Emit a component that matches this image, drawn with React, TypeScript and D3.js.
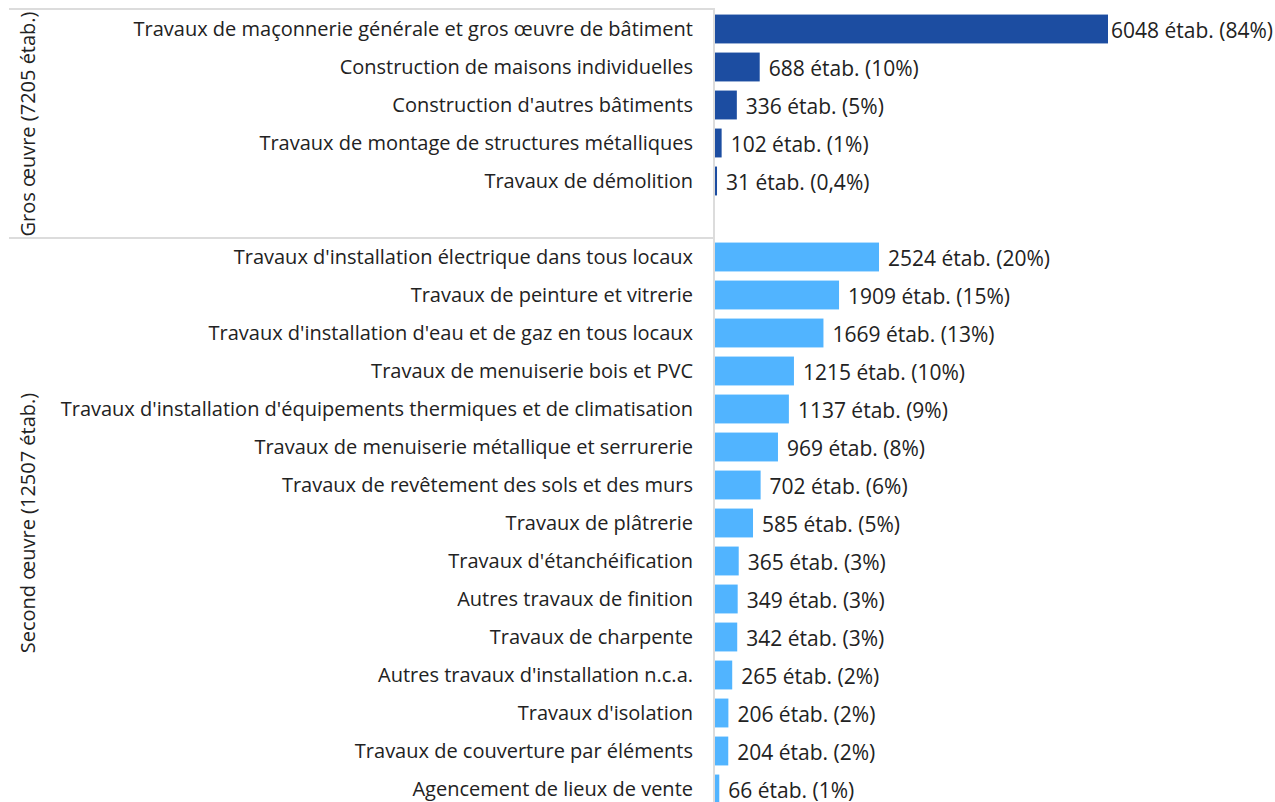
import React, { useEffect, useRef } from "react";
import * as d3 from "d3";

const groupNames = ["Gros œuvre (7205 étab.)", "Second œuvre (12507 étab.)"];

const grosCategories = [
  "Travaux de maçonnerie générale et gros œuvre de bâtiment",
  "Construction de maisons individuelles",
  "Construction d'autres bâtiments",
  "Travaux de montage de structures métalliques",
  "Travaux de démolition",
];
const grosValues = [6048, 688, 336, 102, 31];
const grosShares = ["84%", "10%", "5%", "1%", "0,4%"];

const secondCategories = [
  "Travaux d'installation électrique dans tous locaux",
  "Travaux de peinture et vitrerie",
  "Travaux d'installation d'eau et de gaz en tous locaux",
  "Travaux de menuiserie bois et PVC",
  "Travaux d'installation d'équipements thermiques et de climatisation",
  "Travaux de menuiserie métallique et serrurerie",
  "Travaux de revêtement des sols et des murs",
  "Travaux de plâtrerie",
  "Travaux d'étanchéification",
  "Autres travaux de finition",
  "Travaux de charpente",
  "Autres travaux d'installation n.c.a.",
  "Travaux d'isolation",
  "Travaux de couverture par éléments",
  "Agencement de lieux de vente",
];
const secondValues = [2524, 1909, 1669, 1215, 1137, 969, 702, 585, 365, 349, 342, 265, 206, 204, 66];
const secondShares = ["20%", "15%", "13%", "10%", "9%", "8%", "6%", "5%", "3%", "3%", "3%", "2%", "2%", "2%", "1%"];

const W = 1275;
const H = 802;

export default function App() {
  const ref = useRef<SVGSVGElement>(null);

  useEffect(() => {
    document.body.style.margin = "0";
    const svg = d3.select(ref.current);
    svg.selectAll("*").remove();

    type Row = { key: string; cat: string; value: number; share: string; group: number };
    const rows: Row[] = [];
    grosCategories.forEach((c, i) =>
      rows.push({ key: "g" + i, cat: c, value: grosValues[i], share: grosShares[i], group: 0 })
    );
    rows.push({ key: "gap", cat: "", value: NaN, share: "", group: 0 });
    secondCategories.forEach((c, i) =>
      rows.push({ key: "s" + i, cat: c, value: secondValues[i], share: secondShares[i], group: 1 })
    );

    const top = 10;
    const step = 38;
    const y = d3
      .scaleBand<string>()
      .domain(rows.map((r) => r.key))
      .range([top, top + step * rows.length])
      .paddingInner(0.24)
      .paddingOuter(0.12);

    const axisX = 714;
    const x0 = 715;
    const maxV = d3.max([...grosValues, ...secondValues]) as number;
    const x = d3.scaleLinear().domain([0, maxV]).range([x0, 1108]);

    const colors = ["#1c4da1", "#51b4ff"];
    const font = "'Open Sans', 'Noto Sans', sans-serif";
    const fs = 20;
    const vfs = 21;

    const grid = svg.append("g").attr("stroke", "#dcdcdc").attr("stroke-width", 2);
    const groupTop0 = top;
    const groupTop1 = top + step * 6;
    grid.append("line").attr("x1", 9).attr("x2", axisX).attr("y1", groupTop0 - 1).attr("y2", groupTop0 - 1);
    grid.append("line").attr("x1", 9).attr("x2", axisX).attr("y1", groupTop1).attr("y2", groupTop1);
    grid.append("line").attr("x1", axisX).attr("x2", axisX).attr("y1", groupTop0 - 2).attr("y2", H);

    const data = rows.filter((r) => r.key !== "gap");

    svg
      .append("g")
      .selectAll("rect")
      .data(data)
      .join("rect")
      .attr("x", x0)
      .attr("y", (d) => y(d.key)!)
      .attr("height", y.bandwidth())
      .attr("width", (d) => Math.max(1.5, x(d.value) - x0))
      .attr("fill", (d) => colors[d.group]);

    svg
      .append("g")
      .selectAll("text")
      .data(data)
      .join("text")
      .attr("x", 693)
      .attr("y", (d) => y(d.key)! + y.bandwidth() / 2)
      .attr("dy", "0.35em")
      .attr("text-anchor", "end")
      .attr("font-family", font)
      .attr("font-size", fs)
      .attr("fill", "#222")
      .text((d) => d.cat);

    const labels = svg
      .append("g")
      .selectAll("text")
      .data(data)
      .join("text")
      .attr("x", (d) => Math.max(x(d.value), x0 + 1.5) + 9)
      .attr("y", (d) => y(d.key)! + y.bandwidth() / 2)
      .attr("dy", "0.45em")
      .attr("font-family", font)
      .attr("font-size", vfs)
      .attr("fill", "#222")
      .text((d) => `${d.value} étab. (${d.share})`);

    labels.each(function (d) {
      const el = this as SVGTextElement;
      const w = el.getComputedTextLength();
      const start = Math.max(x(d.value), x0 + 1.5) + 9;
      if (start + w > W - 2) {
        d3.select(el).attr("x", Math.max(x(d.value) + 2, W - 2 - w));
      }
    });

    const groupRanges = [
      [groupTop0, groupTop1],
      [groupTop1, top + step * rows.length],
    ];
    svg
      .append("g")
      .selectAll("text")
      .data(groupNames)
      .join("text")
      .attr("transform", (_, i) => `translate(28,${(groupRanges[i][0] + groupRanges[i][1]) / 2}) rotate(-90)`)
      .attr("dy", "0.35em")
      .attr("text-anchor", "middle")
      .attr("font-family", font)
      .attr("font-size", fs)
      .attr("fill", "#222")
      .text((d) => d);
  }, []);

  return (
    <svg
      ref={ref}
      width={W}
      height={H}
      style={{ position: "absolute", left: 0, top: 0, background: "#fff" }}
    />
  );
}
